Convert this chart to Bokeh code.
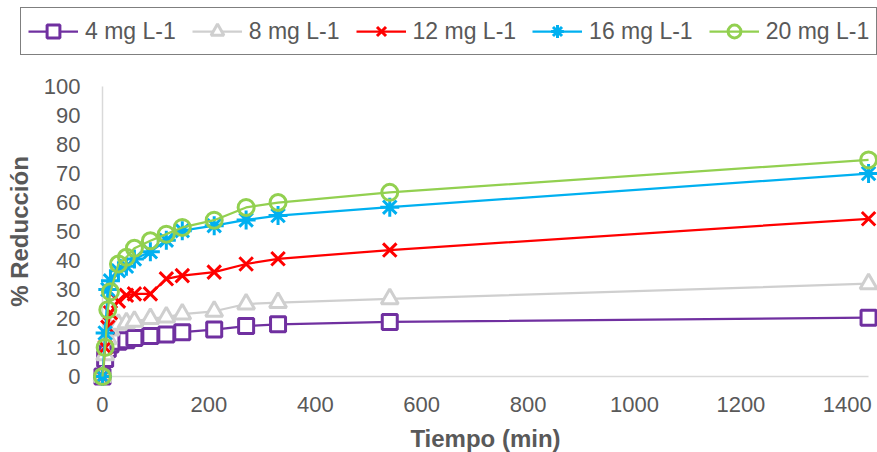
from bokeh.plotting import figure
from bokeh.models import Range1d, FixedTicker, Legend, LegendItem
from bokeh.embed import file_html
from bokeh.resources import INLINE

# ---- data ----
tiempo = [0, 5, 10, 15, 30, 45, 60, 90, 120, 150, 210, 270, 330, 540, 1440]
c4 = [0, 6.0, 9.5, 11.0, 12.0, 12.5, 13.3, 14.0, 14.5, 15.3, 16.2, 17.4, 18.0, 18.8, 20.3]
c8 = [0, 7.5, 13.0, 16.0, 18.0, 18.5, 19.0, 20.0, 20.5, 21.5, 22.5, 25.0, 25.5, 26.8, 32.0]
c12 = [0, 10.0, 17.0, 22.0, 26.0, 28.0, 28.5, 28.5, 33.7, 34.8, 36.0, 38.8, 40.6, 43.6, 54.4]
c16 = [0, 15.0, 30.0, 33.0, 36.5, 38.0, 40.5, 43.0, 47.0, 50.3, 52.0, 54.0, 55.5, 58.4, 70.0]
c20 = [0, 10.0, 23.0, 29.2, 38.8, 41.1, 44.2, 46.8, 49.1, 51.4, 53.9, 58.3, 60.0, 63.5, 74.7]
labels = ["4 mg L-1", "8 mg L-1", "12 mg L-1", "16 mg L-1", "20 mg L-1"]
x_ticks = [0, 200, 400, 600, 800, 1000, 1200, 1400]
y_ticks = [0, 10, 20, 30, 40, 50, 60, 70, 80, 90, 100]

series = [c4, c8, c12, c16, c20]
colors = ["#7030A0", "#CFCFCF", "#FF0000", "#00B0F0", "#92D050"]
markers = ["square", "triangle", "x", "asterisk", "circle"]
sizes = [15, 17, 19, 19, 16]
fills = ["white", "white", None, None, None]

TEXT = "#595959"
FONT = "Liberation Sans"

p = figure(width=877, height=452, output_backend="svg", toolbar_location=None,
           x_range=Range1d(-191.7, 1456.8), y_range=Range1d(-26.2, 129.66),
           min_border_left=0, min_border_right=0, min_border_top=0,
           min_border_bottom=0)
p.outline_line_color = None
p.background_fill_color = "white"
p.border_fill_color = "white"
p.xgrid.visible = False
p.ygrid.visible = False

for ax in (p.xaxis[0], p.yaxis[0]):
    ax.fixed_location = 0
    ax.axis_line_color = "#D9D9D9"
    ax.axis_line_width = 1.5
    ax.major_tick_line_color = None
    ax.minor_tick_line_color = None
    ax.major_tick_out = 0
    ax.major_tick_in = 0
    ax.major_label_text_font = FONT
    ax.major_label_text_font_size = "22px"
    ax.major_label_text_color = TEXT
    ax.axis_label_text_font = FONT
    ax.axis_label_text_font_size = "24px"
    ax.axis_label_text_font_style = "bold"
    ax.axis_label_text_color = TEXT
    ax.level = "underlay"

p.xaxis.ticker = FixedTicker(ticks=x_ticks)
p.yaxis.ticker = FixedTicker(ticks=y_ticks)
p.xaxis.bounds = (0, tiempo[-1])
p.yaxis.bounds = (y_ticks[0], y_ticks[-1])
p.xaxis.axis_label = "Tiempo (min)"
p.yaxis.axis_label = "% Reducción"
p.xaxis.major_label_standoff = 20
p.xaxis.axis_label_standoff = 10
p.yaxis.major_label_standoff = 22
p.yaxis.axis_label_standoff = 8

items = []
for ys, col, mk, sz, fc, lab in zip(series, colors, markers, sizes, fills, labels):
    lr = p.line(tiempo, ys, line_color=col, line_width=2.25)
    sr = p.scatter(tiempo, ys, marker=mk, size=sz, line_color=col, line_width=3,
                   fill_color=fc)
    items.append(LegendItem(label=lab, renderers=[lr, sr]))

legend = Legend(items=items, orientation="horizontal", location=(20, 397),
                border_line_color="black", border_line_width=1.5,
                background_fill_color="white", background_fill_alpha=1,
                label_text_font=FONT, label_text_font_size="23px",
                label_text_color=TEXT, glyph_width=50, glyph_height=32,
                label_standoff=7, spacing=16, padding=7, margin=0)
p.add_layout(legend, "center")

open("out.html", "w").write(file_html(p, INLINE))
